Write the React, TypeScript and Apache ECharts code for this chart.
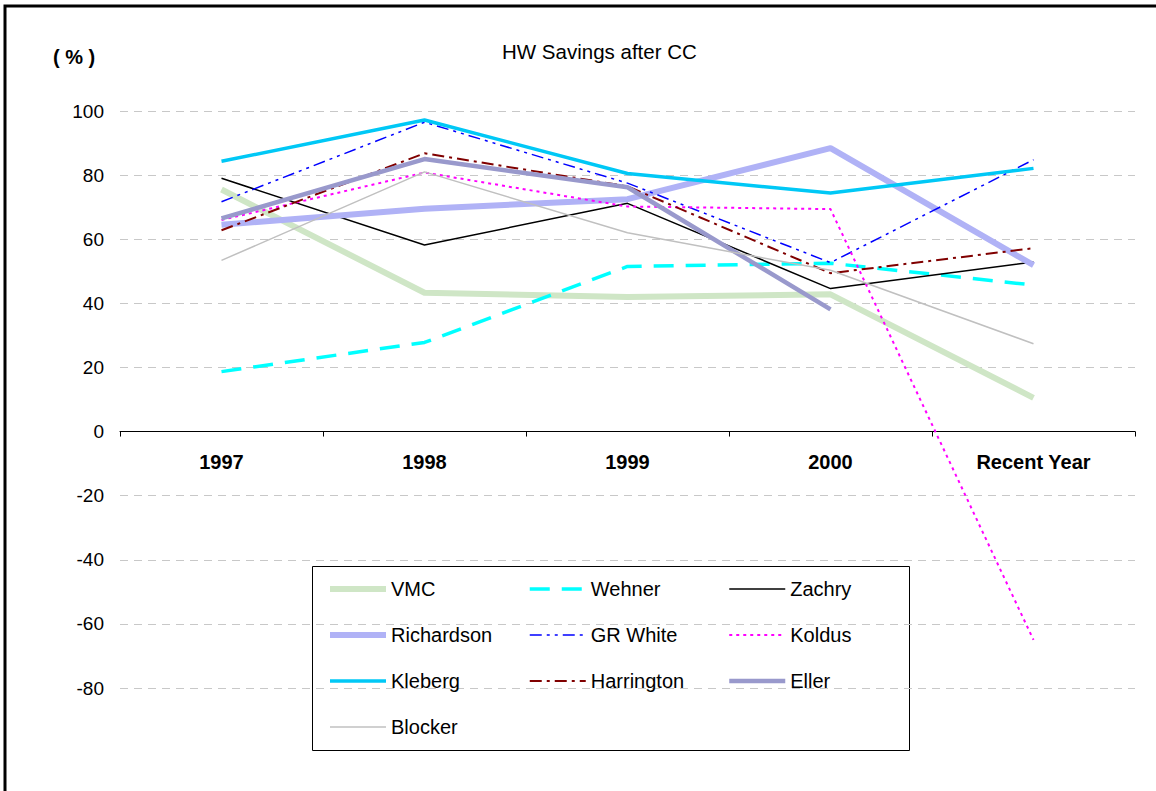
import React, { useEffect, useRef } from "react";
import * as echarts from "echarts";

const categories = ["1997", "1998", "1999", "2000", "Recent Year"];
const vmc = [75.5, 43.3, 42, 42.8, 10.5];
const wehner = [18.7, 27.8, 51.5, 52.5, 45.7];
const zachry = [79, 58.2, 71.2, 44.6, 52.9];
const richardson = [64.5, 69.5, 72.5, 88.4, 51.9];
const grWhite = [71.7, 96.5, 77.5, 52.7, 84.8];
const koldus = [66, 80.8, 70.2, 69.4, -65];
const kleberg = [84.3, 97.2, 80.5, 74.4, 82.1];
const harrington = [62.8, 86.8, 76.5, 49.4, 57.2];
const eller = [66.5, 85, 76.2, 38.1, null];
const blocker = [53.4, 81, 62, 50.3, 27.4];
const yTicks = { min: -80, max: 100, interval: 20 };

const FONT = "Arial, 'Liberation Sans', sans-serif";

export default function App() {
  const ref = useRef<HTMLDivElement>(null);
  useEffect(() => {
    const chart = echarts.init(ref.current!, null, { renderer: "svg" });
    const styles: Record<string, { color: string; width: number; type: any }> = {
      VMC: { color: "#cfe6c6", width: 6, type: "solid" },
      Wehner: { color: "#00ffff", width: 3.5, type: [20, 12] },
      Zachry: { color: "#000000", width: 1.5, type: "solid" },
      Richardson: { color: "#b0b2f6", width: 6, type: "solid" },
      "GR White": { color: "#0000ff", width: 1.5, type: [12, 5, 3, 5, 3, 5] },
      Koldus: { color: "#ff00ff", width: 2, type: [3, 4] },
      Kleberg: { color: "#00c8f6", width: 3.5, type: "solid" },
      Harrington: { color: "#800000", width: 2, type: [12, 5, 3, 5] },
      Eller: { color: "#9999cc", width: 4.5, type: "solid" },
      Blocker: { color: "#c0c0c0", width: 1.5, type: "solid" },
    };
    const mk = (name: string, data: any[]) => {
      const s = styles[name];
      return {
        name,
        type: "line",
        data,
        symbol: "none",
        connectNulls: false,
        lineStyle: { color: s.color, width: s.width, type: s.type, cap: "butt", join: "round" },
        itemStyle: { color: s.color },
      };
    };
    const series = [
      mk("VMC", vmc),
      mk("Wehner", wehner),
      mk("Zachry", zachry),
      mk("Richardson", richardson),
      mk("GR White", grWhite),
      mk("Koldus", koldus),
      mk("Kleberg", kleberg),
      mk("Harrington", harrington),
      mk("Eller", eller),
      mk("Blocker", blocker),
    ];
    const legendBase = (left: number, names: string[]) => ({
      orient: "vertical",
      left,
      top: 579,
      padding: 0,
      itemWidth: 56,
      itemHeight: 14,
      itemGap: 26,
      selectedMode: false,
      itemStyle: { opacity: 0 },
      textStyle: { fontFamily: FONT, fontSize: 20, color: "#000", lineHeight: 20 },
      data: names.map((n) => ({
        name: n,
        lineStyle: { color: styles[n].color, width: styles[n].width, type: styles[n].type },
      })),
    });
    chart.setOption({
      animation: false,
      backgroundColor: "#ffffff",
      title: {
        text: "HW Savings after CC",
        left: 497,
        top: 36,
        textStyle: { fontFamily: FONT, fontSize: 20.5, fontWeight: "normal", color: "#000" },
      },
      grid: { left: 120, right: 21, top: 111, bottom: 103 },
      xAxis: {
        type: "category",
        data: categories,
        boundaryGap: true,
        axisLine: { onZero: true, lineStyle: { color: "#000", width: 1 } },
        axisTick: { show: true, length: 5, lineStyle: { color: "#000" } },
        axisLabel: { fontFamily: FONT, fontSize: 20, fontWeight: "bold", color: "#000", margin: -236 },
      },
      yAxis: {
        type: "value",
        min: yTicks.min,
        max: yTicks.max,
        interval: yTicks.interval,
        axisLine: { show: false },
        axisTick: { show: false },
        axisLabel: { fontFamily: FONT, fontSize: 19, color: "#000", margin: 16 },
        splitLine: { show: true, lineStyle: { color: "#c8c8c8", type: [8, 6], width: 1 } },
      },
      legend: [
        legendBase(327, ["VMC", "Richardson", "Kleberg", "Blocker"]),
        legendBase(528, ["Wehner", "GR White", "Harrington"]),
        legendBase(727, ["Zachry", "Koldus", "Eller"]),
      ],
      graphic: [
        {
          type: "rect",
          shape: { x: 5, y: 6, width: 1200, height: 900 },
          style: { fill: "none", stroke: "#000", lineWidth: 3 },
          silent: true,
          z: 100,
        },
        {
          type: "rect",
          shape: { x: 312.5, y: 566.5, width: 597, height: 184 },
          style: { fill: "#fff", stroke: "#000", lineWidth: 1 },
          silent: true,
          z: 0,
          zlevel: 0,
        },
        {
          type: "text",
          left: 53,
          top: 47,
          style: { text: "( % )", fontFamily: FONT, fontSize: 20, fontWeight: "bold", fill: "#000" },
        },
      ],
      series,
    });
    return () => chart.dispose();
  }, []);
  return (
    <div
      ref={ref}
      style={{ position: "fixed", left: 0, top: 0, width: 1156, height: 791, background: "#fff" }}
    />
  );
}
